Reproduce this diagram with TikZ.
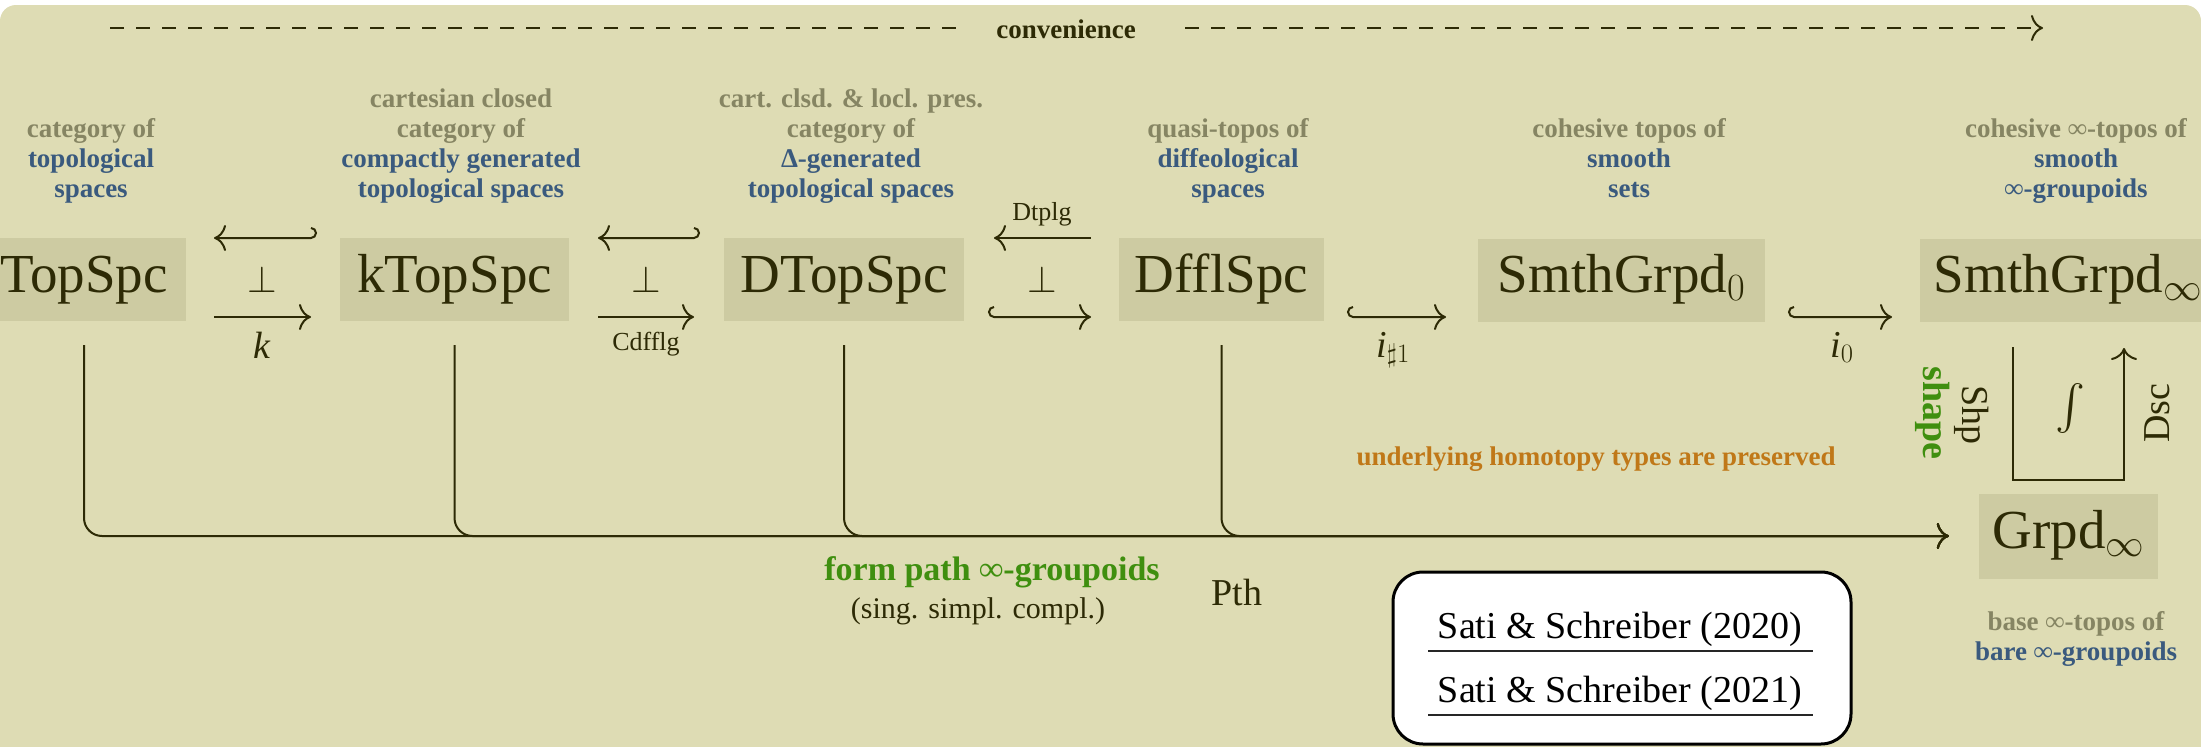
\RequirePackage{fix-cm}
\documentclass[tikz,border=0pt]{standalone}
\usepackage{fontspec}
\setmainfont{Liberation Serif}
\usetikzlibrary{arrows.meta}
\definecolor{bg}{RGB}{222,220,180}
\definecolor{boxc}{RGB}{205,203,162}
\definecolor{ink}{RGB}{45,42,5}
\definecolor{graytxt}{RGB}{134,133,99}
\definecolor{bluetxt}{RGB}{58,90,126}
\definecolor{greentxt}{RGB}{63,143,15}
\definecolor{orangetxt}{RGB}{192,120,24}
\newcommand\gry[1]{\textcolor{graytxt}{#1}}
\newcommand\blu[1]{\textcolor{bluetxt}{#1}}
\newcommand\captab[1]{\begin{tabular}[b]{@{}c@{}}#1\end{tabular}}
\begin{document}
\begin{tikzpicture}[x=1pt,y=-1pt,
  >={To[length=12pt,width=26pt]},
  catbox/.style={fill=boxc, inner sep=0pt, minimum height=83pt, text height=38pt, text depth=13pt, text=ink, font=\fontsize{55}{60}\selectfont},
  capt/.style={inner sep=0pt, anchor=base, font=\fontsize{27}{30}\selectfont\bfseries},
  ar/.style={line width=2pt, draw=ink},
  lab/.style={inner sep=0pt, anchor=base, text=ink, font=\fontsize{38}{42}\selectfont},
  smalllab/.style={inner sep=0pt, anchor=base, text=ink, font=\fontsize{26}{30}\selectfont},
  reftxt/.style={inner sep=0pt, anchor=base, text=black, font=\fontsize{38}{42}\selectfont}]
\useasboundingbox (0,0) rectangle (2201,747);
\clip (0,0) rectangle (2201,747);
\fill[bg, rounded corners=16pt] (0,5) rectangle (2201,800);

% top dashed arrow
\coordinate (dl) at (110,28);
\coordinate (dle) at (968,28);
\coordinate (drs) at (1185,28);
\coordinate (dr) at (2043,28);
\draw[ar, dash pattern=on 14pt off 12pt] (dl) -- (dle);
\draw[ar, dash pattern=on 14pt off 12pt, ->] (drs) -- (dr);
\node[capt, text=ink] (conv) at (1066,38) {convenience};

% category boxes
\node[catbox, minimum width=204pt] (top) at (84,279.5) {TopSpc};
\node[catbox, minimum width=229pt] (ktop) at (454.5,279.5) {kTopSpc};
\node[catbox, minimum width=240pt] (dtop) at (844,279.5) {DTopSpc};
\node[catbox, minimum width=205pt] (dffl) at (1221.5,279.5) {DfflSpc};
\node[catbox, minimum width=287pt] (sg0) at (1621.5,280) {SmthGrpd$_0$};
\node[catbox, minimum width=296pt] (sginf) at (2068,280) {SmthGrpd$_\infty$};
\node[catbox, minimum width=179pt, minimum height=85pt] (grpd) at (2068.5,536) {Grpd$_\infty$};

% captions
\node[capt] (c1) at (91,197) {\captab{\gry{category of}\\ \blu{topological}\\ \blu{spaces}}};
\node[capt] (c2) at (461,197) {\captab{\gry{cartesian closed}\\ \gry{category of}\\ \blu{compactly generated}\\ \blu{topological spaces}}};
\node[capt] (c3) at (851,197) {\captab{\gry{cart. clsd. \& locl. pres.}\\ \gry{category of}\\ \blu{Δ-generated}\\ \blu{topological spaces}}};
\node[capt] (c4) at (1228,197) {\captab{\gry{quasi-topos of}\\ \blu{diffeological}\\ \blu{spaces}}};
\node[capt] (c5) at (1629,197) {\captab{\gry{cohesive topos of}\\ \blu{smooth}\\ \blu{sets}}};
\node[capt] (c6) at (2076,197) {\captab{\gry{cohesive ∞-topos of}\\ \blu{smooth}\\ \blu{∞-groupoids}}};
\node[capt] (c7) at (2076,660) {\captab{\gry{base ∞-topos of}\\ \blu{bare ∞-groupoids}}};

% pair 1: TopSpc <-> kTopSpc
\coordinate (a1u0) at (214,238); \coordinate (a1u1) at (311,238);
\coordinate (a1d0) at (214,317); \coordinate (a1d1) at (311,317);
\draw[ar, <-] (a1u0) -- (a1u1) arc(90:-90:5);
\draw[ar, ->] (a1d0) -- (a1d1);
\node[lab] (perp1) at (262,292) {$\perp$};
\node[lab] (k) at (262,358) {$\mathit{k}$};

% pair 2: kTopSpc <-> DTopSpc
\coordinate (a2u0) at (598,238); \coordinate (a2u1) at (694,238);
\coordinate (a2d0) at (598,317); \coordinate (a2d1) at (694,317);
\draw[ar, <-] (a2u0) -- (a2u1) arc(90:-90:5);
\draw[ar, ->] (a2d0) -- (a2d1);
\node[lab] (perp2) at (646,292) {$\perp$};
\node[smalllab] (cdf) at (646,350) {Cdfflg};

% pair 3: DTopSpc <-> DfflSpc
\coordinate (a3u0) at (994,238); \coordinate (a3u1) at (1091,238);
\coordinate (a3d0) at (994,317); \coordinate (a3d1) at (1091,317);
\draw[ar, <-] (a3u0) -- (a3u1);
\draw[ar, ->] (a3d0) ++(0,-10) arc(270:90:5) -- (a3d1);
\node[lab] (perp3) at (1042,292) {$\perp$};
\node[smalllab] (dtp) at (1042,220) {Dtplg};

% DfflSpc -> SmthGrpd0
\coordinate (a4a) at (1353,317); \coordinate (a4b) at (1446,317);
\draw[ar, ->] (a4a) ++(0,-10) arc(270:90:5) -- (a4b);
\node[lab] (ish) at (1393,357) {$\mathit{i}_{\sharp 1}$};

% SmthGrpd0 -> SmthGrpdinf
\coordinate (a5a) at (1794,317); \coordinate (a5b) at (1892,317);
\draw[ar, ->] (a5a) ++(0,-10) arc(270:90:5) -- (a5b);
\node[lab] (i0) at (1842,357) {$\mathit{i}_0$};

% path infinity-groupoid arrows
\draw[ar, rounded corners=18pt, ->] ([yshift=-24pt]top.south) |- ([xshift=-30pt]grpd.west);
\draw[ar, rounded corners=18pt, ->] ([yshift=-24pt]ktop.south) |- ([xshift=-30pt]grpd.west);
\draw[ar, rounded corners=18pt, ->] ([yshift=-24pt]dtop.south) |- ([xshift=-30pt]grpd.west);
\draw[ar, rounded corners=18pt, ->] ([yshift=-24pt]dffl.south) |- ([xshift=-30pt]grpd.west);
\node[inner sep=0pt, anchor=base, text=greentxt, font=\fontsize{34}{38}\selectfont\bfseries] (fp) at (992,580) {form path ∞-groupoids};
\node[inner sep=0pt, anchor=base, text=ink, font=\fontsize{30}{34}\selectfont] (ssc) at (978,618) {(sing. simpl. compl.)};
\node[lab] (pth) at (1237,605) {Pth};

% shape modality
\coordinate (shpS) at (2013,347); \coordinate (shpB) at (2013,480);
\coordinate (dscB) at (2124,480); \coordinate (dscE) at (2124,348);
\draw[ar, ->] (shpS) -- (shpB) -- (dscB) -- (dscE);
\node[inner sep=0pt, text=ink, font=\fontsize{10}{12}\selectfont] (int) at (2070,408) {\scalebox{4.5}{$\int$}};
\node[inner sep=0pt, text=ink, rotate=-90, font=\fontsize{38}{42}\selectfont] (shp) at (1972,415) {Shp};
\node[inner sep=0pt, text=ink, rotate=90, font=\fontsize{38}{42}\selectfont] (dsc) at (2157,413) {Dsc};
\node[inner sep=0pt, text=greentxt, rotate=-90, font=\fontsize{38}{42}\selectfont\bfseries] (shape) at (1933,413) {shape};

\node[capt, text=orangetxt] (uht) at (1596,465) {underlying homotopy types are preserved};

% reference box
\node[draw=black, line width=3pt, fill=white, rounded corners=30pt, minimum width=458pt, minimum height=172pt, inner sep=0pt] (refbox) at (1622,658) {};
\node[reftxt] (r1) at (1620,638) {Sati \& Schreiber (2020)};
\node[reftxt] (r2) at (1620,702) {Sati \& Schreiber (2021)};
\coordinate (u1a) at (1428,651); \coordinate (u1b) at (1813,651);
\coordinate (u2a) at (1428,715); \coordinate (u2b) at (1813,715);
\draw[line width=2pt, draw=black!85] (u1a) -- (u1b);
\draw[line width=2pt, draw=black!85] (u2a) -- (u2b);
\end{tikzpicture}
\end{document}
